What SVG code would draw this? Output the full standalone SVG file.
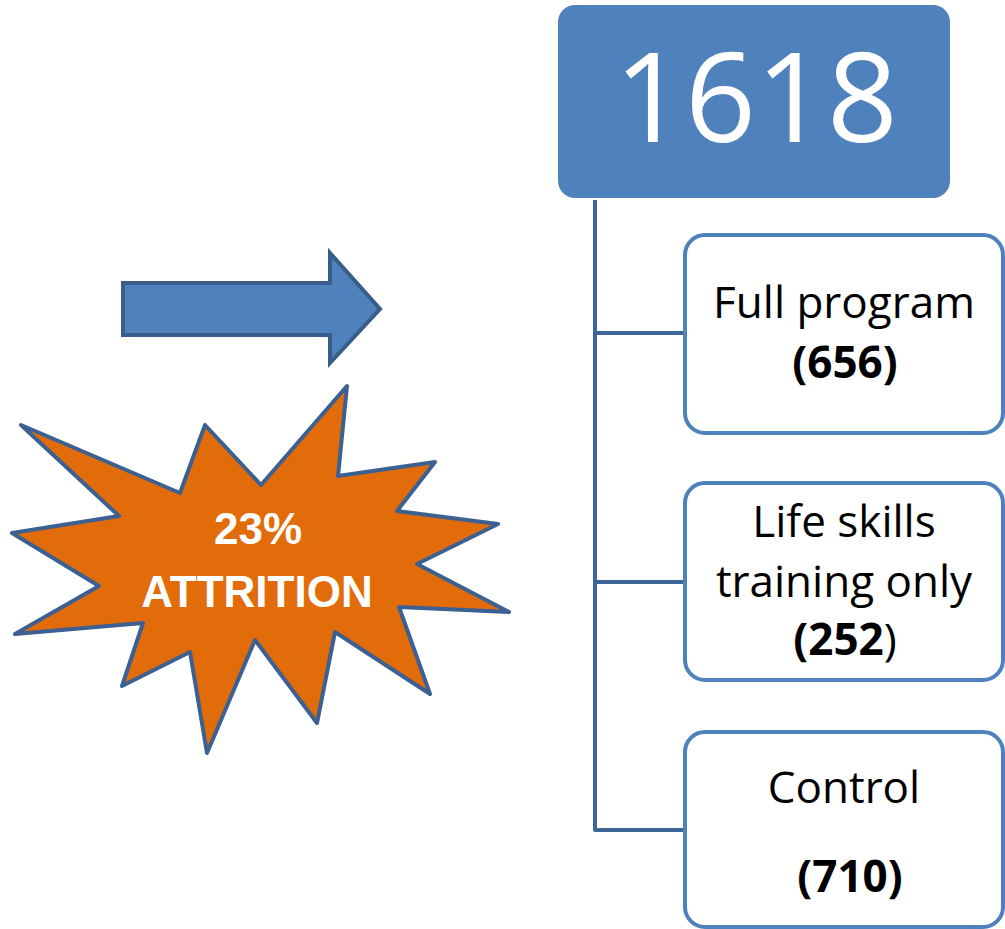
<svg xmlns="http://www.w3.org/2000/svg" width="1005" height="929" viewBox="0 0 1005 929">
  <style>
    .box { fill: #ffffff; stroke: #4F81BD; stroke-width: 4; }
    .lbl { font-family: "Open Sans", "Liberation Sans", sans-serif; font-size: 44px; fill: #000000; text-anchor: middle; }
    .num { font-weight: bold; }
    .wire { fill: none; stroke: #3E6597; stroke-width: 4; stroke-linejoin: round; }
    .burst-txt { font-family: "Liberation Sans", Arial, sans-serif; font-weight: bold; font-size: 44px; fill: #ffffff; text-anchor: middle; }
  </style>

  <!-- connectors: trunk from the total down to each group -->
  <g id="connectors">
    <path class="wire" d="M595 200 V830 H687"/>
    <path class="wire" d="M595 333 H687"/>
    <path class="wire" d="M595 582 H687"/>
  </g>

  <!-- total sample -->
  <g id="total">
    <rect x="558" y="5" width="392" height="193" rx="17" fill="#4F81BD"/>
    <text x="756" y="142" font-family="Open Sans, Liberation Sans, sans-serif" font-size="124" fill="#ffffff" text-anchor="middle">1618</text>
  </g>

  <g id="full-program">
    <rect class="box" x="685" y="235" width="318" height="198" rx="20"/>
    <text class="lbl" x="844" y="318">Full program</text>
    <text class="lbl num" x="845" y="378">(656)</text>
  </g>

  <g id="life-skills">
    <rect class="box" x="685" y="483" width="318" height="197" rx="20"/>
    <text class="lbl" x="844" y="537">Life skills</text>
    <text class="lbl" x="844" y="597">training only</text>
    <text class="lbl" x="845" y="655"><tspan class="num">(252</tspan>)</text>
  </g>

  <g id="control">
    <rect class="box" x="685" y="732" width="318" height="195" rx="20"/>
    <text class="lbl" x="844" y="803">Control</text>
    <text class="lbl num" x="850" y="892">(710)</text>
  </g>

  <!-- block arrow -->
  <g id="arrow">
    <polygon points="123,283 330,283 330,253 380,309 330,363 330,335 123,335" fill="#4F81BD" stroke="#385D8A" stroke-width="4" stroke-linejoin="miter"/>
  </g>

  <!-- attrition starburst -->
  <g id="attrition">
    <polygon points="21,425 180,493 205,425 261,485 347,386 338,476 435,462 397,511 498,524 417,564 509,612 399,607 430,694 335,632 317,723 255,640 207,753 190,652 122,686 143,623 15,634 99,586 12,533 119,516" fill="#E36C0A" stroke="#3B6091" stroke-width="4" stroke-linejoin="round"/>
    <text class="burst-txt" x="258" y="544">23%</text>
    <text class="burst-txt" x="257" y="607">ATTRITION</text>
  </g>
</svg>
